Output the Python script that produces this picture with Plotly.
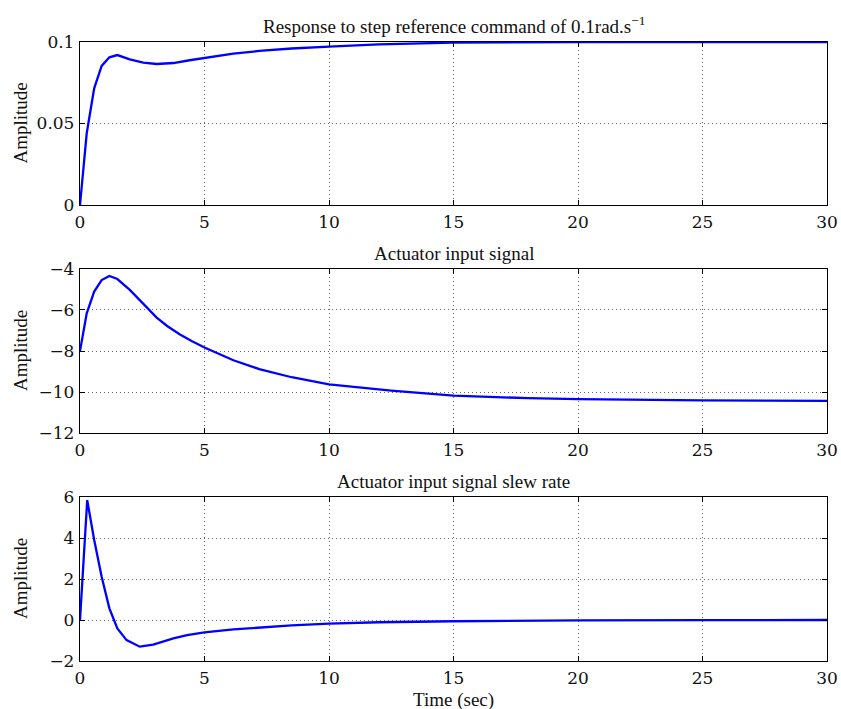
import plotly.graph_objects as go

# Step response
t1 = [0, 0.27, 0.57, 0.87, 1.18, 1.5, 2.0, 2.54, 3.08, 3.75, 4.4, 5, 6.16, 7.2, 8.5, 10, 12, 15, 18, 20, 25, 30]
y1 = [0, 0.044, 0.0716, 0.0853, 0.0906, 0.092, 0.0894, 0.0873, 0.0865, 0.0871, 0.0888, 0.0903, 0.0928, 0.0945, 0.096, 0.0972, 0.0986, 0.0996, 0.0999, 0.1, 0.1, 0.1]

# Actuator input signal
t2 = [0, 0.27, 0.57, 0.87, 1.18, 1.5, 2.0, 2.54, 3.08, 3.5, 4.0, 4.5, 5, 6.16, 7.2, 8.5, 10, 12.5, 15, 18, 20, 25, 30]
y2 = [-8.0, -6.16, -5.1, -4.54, -4.34, -4.49, -5.02, -5.72, -6.37, -6.78, -7.18, -7.52, -7.83, -8.45, -8.88, -9.28, -9.63, -9.93, -10.18, -10.3, -10.35, -10.41, -10.43]

# Actuator input signal slew rate
t3 = [0, 0.29, 0.57, 0.87, 1.18, 1.5, 1.87, 2.4, 2.94, 3.4, 3.75, 4.3, 5, 6.16, 7.2, 8.5, 10, 12, 15, 18, 20, 25, 30]
y3 = [0, 5.85, 3.9, 2.11, 0.57, -0.41, -0.98, -1.3, -1.2, -1.03, -0.9, -0.74, -0.6, -0.46, -0.36, -0.26, -0.18, -0.11, -0.06, -0.03, -0.02, -0.01, 0]

titles = ["Response to step reference command of 0.1rad.s<sup>\u22121</sup>",
          "Actuator input signal",
          "Actuator input signal slew rate"]
ylabel = "Amplitude"
xlabel = "Time (sec)"

xticks = [0, 5, 10, 15, 20, 25, 30]
yticks1 = [0, 0.05, 0.1]
yticks1_txt = ["0", "0.05", "0.1"]
yticks2 = [-12, -10, -8, -6, -4]
yticks3 = [-2, 0, 2, 4, 6]

domains = [(0.7367, 1.0), (0.3683, 0.6333), (0.0, 0.2649)]
yranges = [(0, 0.1), (-12, -4), (-2, 6)]

W, H = 841, 709
ML, MR, MT, MB = 80, 14, 42, 48
PW = W - ML - MR
PH = H - MT - MB

fig = go.Figure()
for i, (t, y) in enumerate([(t1, y1), (t2, y2), (t3, y3)]):
    sfx = "" if i == 0 else str(i + 1)
    fig.add_trace(go.Scatter(x=t, y=y, mode="lines", line=dict(color="#0000ff", width=2.3),
                             xaxis="x" + sfx, yaxis="y" + sfx, showlegend=False))

tickfont = dict(family="DejaVu Serif", size=17, color="#111")
axis_common = dict(showline=True, linecolor="black", linewidth=1.3, mirror="ticks",
                   ticks="inside", ticklen=5, tickcolor="black", tickfont=tickfont,
                   showgrid=True, gridcolor="rgba(0,0,0,0.6)", griddash="1px,3px", gridwidth=1,
                   zeroline=False, automargin=False)

layout = dict(
    width=W, height=H,
    margin=dict(l=ML, r=MR, t=MT, b=MB),
    plot_bgcolor="white", paper_bgcolor="white",
    font=dict(family="Liberation Serif", color="black"),
)
for i in range(3):
    sfx = "" if i == 0 else str(i + 1)
    layout["xaxis" + sfx] = dict(axis_common, range=[0, 30], tickvals=xticks,
                                 anchor="y" + sfx, domain=[0, 1], ticklabelstandoff=1)
    yt = [yticks1, yticks2, yticks3][i]
    ya = dict(axis_common, range=list(yranges[i]), tickvals=yt, anchor="x" + sfx,
              domain=list(domains[i]), ticklabelstandoff=1)
    if i == 0:
        ya["ticktext"] = yticks1_txt
    layout["yaxis" + sfx] = ya

fig.update_layout(**layout)

txtfont = dict(family="Liberation Serif", size=19, color="#111")
for i, d in enumerate(domains):
    fig.add_annotation(text=titles[i], x=0.5, y=d[1], xref="paper", yref="paper",
                       xanchor="center", yanchor="bottom", yshift=3, showarrow=False,
                       font=txtfont)
    fig.add_annotation(text=ylabel, x=(20 - ML) / PW, y=(d[0] + d[1]) / 2, xref="paper", yref="paper",
                       xanchor="center", yanchor="middle", textangle=-90, showarrow=False,
                       font=txtfont)

fig.add_annotation(text=xlabel, x=0.5, y=0, xref="paper", yref="paper",
                   xanchor="center", yanchor="top", yshift=-26, showarrow=False, font=txtfont)

fig.write_html("out.html")
